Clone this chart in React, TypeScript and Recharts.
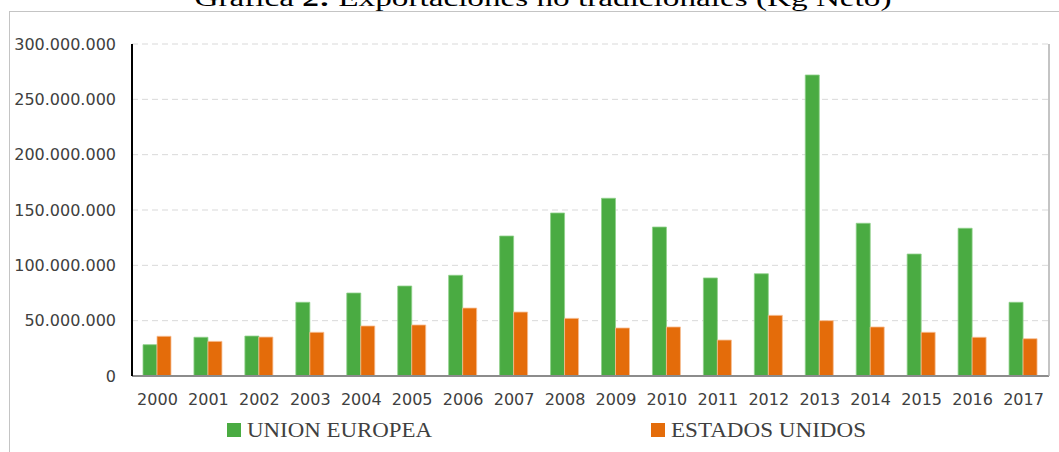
import React from "react";
import {
  BarChart,
  Bar,
  XAxis,
  YAxis,
  CartesianGrid,
  Legend,
} from "recharts";

const years = [
  "2000", "2001", "2002", "2003", "2004", "2005", "2006", "2007", "2008",
  "2009", "2010", "2011", "2012", "2013", "2014", "2015", "2016", "2017",
];
const unionEuropea = [
  28300000, 35000000, 36100000, 66600000, 75000000, 81300000, 91000000,
  126500000, 147300000, 160600000, 134600000, 88600000, 92400000, 272000000,
  138000000, 110200000, 133500000, 66600000,
];
const estadosUnidos = [
  35900000, 31300000, 35200000, 39500000, 45200000, 46100000, 61400000,
  57800000, 52100000, 43400000, 44300000, 32500000, 54800000, 50000000,
  44300000, 39500000, 35000000, 33700000,
];
const yTicks = [0, 50000000, 100000000, 150000000, 200000000, 250000000, 300000000];
const seriesNames = ["UNION EUROPEA", "ESTADOS UNIDOS"];
const titleText = "Exportaciones no tradicionales (Kg Neto)";

const GREEN = "#4aab42";
const ORANGE = "#e46c0a";

const data = years.map((y, i) => ({
  year: y,
  ue: unionEuropea[i],
  eu: estadosUnidos[i],
}));

const fmt = (v: number) =>
  String(Math.round(v)).replace(/\B(?=(\d{3})+(?!\d))/g, ".");

const legendItems = [
  { name: seriesNames[0], color: GREEN, x: 227, len: 185 },
  { name: seriesNames[1], color: ORANGE, x: 651, len: 195 },
];

const LegendContent = () => (
  <svg width={1059} height={30} style={{ display: "block" }}>
    {legendItems.map((it) => (
      <g key={it.name}>
        <rect x={it.x} y={7} width={14} height={14} fill={it.color} />
        <text
          x={it.x + 20}
          y={21}
          fontFamily="'Liberation Serif', serif"
          fontSize={21}
          fill="#404040"
          textLength={it.len}
          lengthAdjust="spacingAndGlyphs"
        >
          {it.name}
        </text>
      </g>
    ))}
  </svg>
);

export default function App() {
  return (
    <div
      style={{
        position: "fixed",
        left: 0,
        top: 0,
        width: 1059,
        height: 452,
        overflow: "hidden",
        background: "#fff",
      }}
    >
      <div
        style={{
          position: "absolute",
          left: 9,
          top: 11,
          width: 1100,
          height: 500,
          border: "1px solid #c4c4c4",
        }}
      />
      <svg
        width={1059}
        height={20}
        style={{ position: "absolute", left: 0, top: 0 }}
      >
        <text
          x={543}
          y={6}
          textAnchor="middle"
          fontFamily="'Liberation Serif', serif"
          fontSize={24}
          fill="#000"
          textLength={697}
          lengthAdjust="spacingAndGlyphs"
        >
          Gráfica <tspan fontWeight="bold">2:</tspan> {titleText}
        </text>
      </svg>
      <div style={{ position: "absolute", left: 0, top: 0 }}>
        <BarChart
          width={1059}
          height={452}
          data={data}
          margin={{ top: 44, right: 0, bottom: 36, left: 0 }}
          barGap={0}
          barSize={14}
        >
          <CartesianGrid
            vertical={false}
            stroke="#d9d9d9"
            strokeDasharray="6 4"
            yAxisId="l"
          />
          <XAxis
            dataKey="year"
            height={40}
            tickLine={false}
            tickSize={6}
            tickMargin={12}
            axisLine={{ stroke: "#8c8c8c", strokeWidth: 2 }}
            tick={{ fill: "#404040", fontSize: 16, fontFamily: "'DejaVu Sans', sans-serif" }}
            interval={0}
          />
          <XAxis
            xAxisId="t"
            dataKey="year"
            orientation="top"
            height={0}
            tick={false}
            tickLine={false}
            axisLine={{ stroke: "#c0c0c0", strokeWidth: 1 }}
          />
          <YAxis
            yAxisId="l"
            width={132}
            domain={[0, 300000000]}
            ticks={yTicks}
            tickFormatter={fmt}
            tickLine={false}
            tickSize={6}
            tickMargin={10}
            axisLine={{ stroke: "#000", strokeWidth: 2 }}
            tick={{ fill: "#404040", fontSize: 16, fontFamily: "'DejaVu Sans', sans-serif" }}
            interval={0}
          />
          <YAxis
            yAxisId="r"
            orientation="right"
            width={10}
            tick={false}
            tickLine={false}
            axisLine={{ stroke: "#b0b0b0", strokeWidth: 1.5 }}
          />
          <Legend
            layout="horizontal"
            verticalAlign="middle"
            align="center"
            wrapperStyle={{ position: "absolute", top: 416, left: 0, width: 1059, height: 30 }}
            content={() => <LegendContent />}
          />
          <Bar
            dataKey="ue"
            name={seriesNames[0]}
            yAxisId="l"
            fill={GREEN}
            stroke="#8fd08a"
            strokeWidth={0.8}
            isAnimationActive={false}
          />
          <Bar
            dataKey="eu"
            name={seriesNames[1]}
            yAxisId="l"
            fill={ORANGE}
            stroke="#f7bf94"
            strokeWidth={0.8}
            isAnimationActive={false}
          />
        </BarChart>
      </div>
    </div>
  );
}
